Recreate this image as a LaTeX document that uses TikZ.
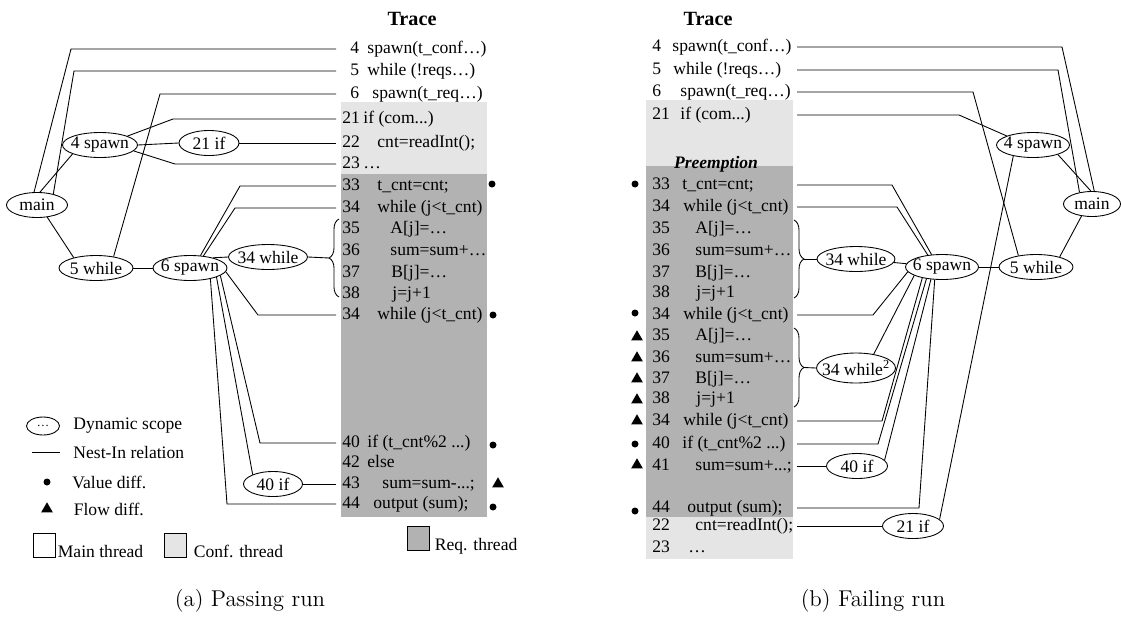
\documentclass[tikz,border=0pt]{standalone}
\usepackage{fontspec}
\newfontfamily\trfont{Liberation Serif}
\usepackage{tikz}
\usetikzlibrary{shapes.geometric,decorations.pathreplacing,positioning}
\definecolor{confgray}{gray}{0.9}
\definecolor{reqgray}{gray}{0.7}
\newcommand{\trln}[3]{\makebox[#1][l]{#2}#3}

\begin{document}
\begin{tikzpicture}[x=0.02cm, y=-0.02cm, line width=0.5pt,
scopenode/.style={ellipse, draw, font=\trfont, inner xsep=-5pt, inner ysep=0pt, minimum width=1.48cm, minimum height=0.5cm},
tracerow/.style={anchor=west, inner sep=0pt, text height=7pt, text depth=2pt, font=\trfont},
valdiff/.style={circle, fill=black, inner sep=0pt, minimum size=0.14cm},
flowdiff/.style={regular polygon, regular polygon sides=3, fill=black, inner sep=0pt, minimum size=0.27cm},
legbox/.style={rectangle, draw, inner sep=0pt, minimum width=0.44cm, minimum height=0.48cm},
legtext/.style={anchor=west, inner sep=0pt, font=\trfont},
codebrace/.style={decorate, decoration={brace, amplitude=0.2cm}},
]
\useasboundingbox (0,0) rectangle (1121,619);

%Trace boxes
\fill[confgray] (341,102) rectangle (487,174);
\fill[reqgray] (341,174) rectangle (487,517);
\fill[confgray] (646,100) rectangle (793,166);
\fill[reqgray] (646,166) rectangle (793,517);
\fill[confgray] (646,517) rectangle (793,559);

\coordinate (ea) at (336,0);
\coordinate (eb) at (797,0);

%Nodes (a)
\node[font={\trfont\bfseries\fontsize{11.5}{13}\selectfont}] (tra) at (412,19) {Trace};
\node[tracerow] (a4) at (350,49) {\trln{0.34cm}{4}{spawn(t\_conf…)}};
\node[tracerow] (a5) at (350,71) {\trln{0.34cm}{5}{while (!reqs…)}};
\node[tracerow] (a6) at (350,94) {\trln{0.44cm}{6}{spawn(t\_req…)}};
\node[tracerow] (a21) at (342,119) {\trln{0.42cm}{21}{if (com...)}};
\node[tracerow] (a22) at (342,143) {\trln{0.7cm}{22}{cnt=readInt();}};
\node[tracerow] (a23) at (342,164) {\trln{0.42cm}{23}{…}};
\node[tracerow] (a33) at (342,186) {\trln{0.7cm}{33}{t\_cnt=cnt;}};
\node[tracerow] (a34) at (342,208) {\trln{0.7cm}{34}{while (j<t\_cnt)}};
\node[tracerow] (a35) at (342,229) {\trln{0.96cm}{35}{A[j]=…}};
\node[tracerow] (a36) at (342,251) {\trln{0.96cm}{36}{sum=sum+…}};
\node[tracerow] (a37) at (342,273) {\trln{0.98cm}{37}{B[j]=…}};
\node[tracerow] (a38) at (342,294) {\trln{1cm}{38}{j=j+1}};
\node[tracerow] (a34b) at (342,315) {\trln{0.7cm}{34}{while (j<t\_cnt)}};
\node[tracerow] (a40) at (342,443) {\trln{0.5cm}{40}{if (t\_cnt\%2 ...)}};
\node[tracerow] (a42) at (342,463) {\trln{0.5cm}{42}{else}};
\node[tracerow] (a43) at (342,484) {\trln{0.8cm}{43}{sum=sum-...;}};
\node[tracerow] (a44) at (342,504) {\trln{0.62cm}{44}{output (sum);}};

\node[scopenode, minimum width=1.22cm] (lmain) at (37,205) {main};
\node[scopenode, minimum width=1.5cm] (ls4) at (100,145) {4 spawn};
\node[scopenode, minimum width=1.2cm] (lif21) at (209,143) {21 if};
\node[scopenode] (lw5) at (96,268) {5 while};
\node[scopenode] (ls6) at (190,268) {6 spawn};
\node[scopenode, minimum width=1.58cm] (lw34) at (268,257) {34 while};
\node[scopenode, minimum width=1.18cm] (lif40) at (273,484) {40 if};

\node[valdiff] (va33) at (492,184) {};
\node[valdiff] (va34) at (493,315) {};
\node[valdiff] (va40) at (493,445) {};
\node[flowdiff] (fa43) at (498,484) {};
\node[valdiff] (va44) at (493,507) {};

\draw[codebrace] (339,297) -- (339,219);
\coordinate (lbr) at (329,258);

%Lines (a)
\draw (lmain.103) -- (71,49) -- (a4 -| ea);
\draw (lmain.34) -- (74,71) -- (a5 -| ea);
\draw (lmain.77) -- (ls4.198);
\draw (lmain.-50) -- (lw5.155);
\draw (ls4.18) -- (173,119) -- (a21 -| ea);
\draw (ls4.east) -- (lif21.west);
\draw (lif21.east) -- (a22 -| ea);
\draw (ls4.-10) -- (175,164) -- (a23 -| ea);
\draw (lw5.33) -- (160,94) -- (a6 -| ea);
\draw (lw5) -- (ls6);
\draw (ls6.50) -- (240,186) -- (a33 -| ea);
\draw (ls6.42) -- (235,208) -- (a34 -| ea);
\draw (ls6.24) -- (lw34.west);
\draw (lw34.east) -- (lbr);
\draw (ls6.-6) -- (258,315) -- (a34b -| ea);
\draw (ls6.-14) -- (260,443) -- (a40 -| ea);
\draw (ls6.-19) -- (lif40.155);
\draw (lif40.east) -- (a43 -| ea);
\draw (ls6.-28) -- (227,504) -- (a44 -| ea);

%Legend
\node[scopenode, minimum width=0.66cm, minimum height=0.36cm, font=\trfont\scriptsize] (lgscope) at (43,426) {…};
\node[legtext, right=0.26cm of lgscope] (lgscopet) {Dynamic scope};
\coordinate (lgn1) at (32,452);
\coordinate (lgn2) at (60,452);
\draw (lgn1) -- (lgn2);
\node[legtext, right=0.26cm of lgn2] (lgnestt) {Nest-In relation};
\node[valdiff] (lgval) at (47,482) {};
\node[legtext, right=0.42cm of lgval] (lgvalt) {Value diff.};
\node[flowdiff] (lgflow) at (47,509) {};
\node[legtext, right=0.44cm of lgflow] (lgflowt) {Flow diff.};
\node[legbox] (lgmain) at (44,545) {};
\node[legtext, right=0.04cm of lgmain.south east, anchor=base west] (lgmaint) {Main thread};
\node[legbox, fill=confgray] (lgconf) at (175,545) {};
\node[legtext, right=0.14cm of lgconf.south east, anchor=base west] (lgconft) {Conf. thread};
\node[legbox, fill=reqgray] (lgreq) at (418,538) {};
\node[legtext, right=0.1cm of lgreq.south east, anchor=base west] (lgreqt) {Req. thread};

%Nodes (b)
\node[font={\trfont\bfseries\fontsize{11.5}{13}\selectfont}] (trb) at (708,19) {Trace};
\node[font={\trfont\bfseries\itshape}] (preb) at (716,164) {Preemption};
\node[tracerow] (b4) at (652,47) {\trln{0.4cm}{4}{spawn(t\_conf…)}};
\node[tracerow] (b5) at (652,70) {\trln{0.42cm}{5}{while (!reqs…)}};
\node[tracerow] (b6) at (652,92) {\trln{0.56cm}{6}{spawn(t\_req…)}};
\node[tracerow] (b21) at (652,115) {\trln{0.56cm}{21}{if (com...)}};
\node[tracerow] (b33) at (652,185) {\trln{0.6cm}{33}{t\_cnt=cnt;}};
\node[tracerow] (b34) at (652,207) {\trln{0.62cm}{34}{while (j<t\_cnt)}};
\node[tracerow] (b35) at (652,229) {\trln{0.86cm}{35}{A[j]=…}};
\node[tracerow] (b36) at (652,251) {\trln{0.86cm}{36}{sum=sum+…}};
\node[tracerow] (b37) at (652,273) {\trln{0.86cm}{37}{B[j]=…}};
\node[tracerow] (b38) at (652,293) {\trln{0.88cm}{38}{j=j+1}};
\node[tracerow] (b34b) at (652,315) {\trln{0.62cm}{34}{while (j<t\_cnt)}};
\node[tracerow] (b35b) at (652,336) {\trln{0.86cm}{35}{A[j]=…}};
\node[tracerow] (b36b) at (652,358) {\trln{0.86cm}{36}{sum=sum+…}};
\node[tracerow] (b37b) at (652,379) {\trln{0.86cm}{37}{B[j]=…}};
\node[tracerow] (b38b) at (652,399) {\trln{0.88cm}{38}{j=j+1}};
\node[tracerow] (b34c) at (652,421) {\trln{0.62cm}{34}{while (j<t\_cnt)}};
\node[tracerow] (b40) at (652,444) {\trln{0.6cm}{40}{if (t\_cnt\%2 ...)}};
\node[tracerow] (b41) at (652,466) {\trln{0.86cm}{41}{sum=sum+...;}};
\node[tracerow] (b44) at (652,508) {\trln{0.7cm}{44}{output (sum);}};
\node[tracerow] (b22) at (652,526) {\trln{0.86cm}{22}{cnt=readInt();}};
\node[tracerow] (b23) at (652,548) {\trln{0.72cm}{23}{…}};

\node[scopenode, minimum width=1.14cm] (rmain) at (1092,204) {main};
\node[scopenode, minimum width=1.46cm] (rs4) at (1033,145) {4 spawn};
\node[scopenode] (rw5) at (1036,267) {5 while};
\node[scopenode, minimum width=1.46cm] (rs6) at (942,267) {6 spawn};
\node[scopenode, minimum width=1.56cm] (rw34) at (856,259) {34 while};
\node[scopenode, minimum width=1.58cm, minimum height=0.6cm] (rw34x) at (856,368) {34 while\textsuperscript{2}};
\node[scopenode, minimum width=1.22cm] (rif40) at (857,466) {40 if};
\node[scopenode, minimum width=1.22cm] (rif21) at (913,526) {21 if};

\node[valdiff] (vb33) at (635,184) {};
\node[valdiff] (vb34) at (635,313) {};
\node[flowdiff] (fb35) at (637,337) {};
\node[flowdiff] (fb36) at (637,358) {};
\node[flowdiff] (fb37) at (637,379) {};
\node[flowdiff] (fb38) at (637,400) {};
\node[flowdiff] (fb34) at (637,421) {};
\node[valdiff] (vb40) at (635,444) {};
\node[flowdiff] (fb41) at (637,465) {};
\node[valdiff] (vb44) at (635,511) {};

\draw[codebrace] (794,220) -- (794,298);
\coordinate (rbr1) at (804,259);
\draw[codebrace] (794,328) -- (794,407);
\coordinate (rbr2) at (804,367.5);

%Lines (b)
\draw (rmain.80) -- (1062,47) -- (b4 -| eb);
\draw (rmain.137) -- (1058,70) -- (b5 -| eb);
\draw (rw5.147) -- (973,92) -- (b6 -| eb);
\draw (rs4.161) -- (959,115) -- (b21 -| eb);
\draw (rs4.-21) -- (rmain.95);
\draw (rmain.-131) -- (rw5.23);
\draw (rw5) -- (rs6);
\draw (rs4.-151) -- (rif21.14);
\draw (rif21.west) -- (b22 -| eb);
\draw (rs6.130) -- (892,185) -- (b33 -| eb);
\draw (rs6.140) -- (897,207) -- (b34 -| eb);
\draw (rw34) -- (rs6);
\draw (rbr1) -- (rw34.west);
\draw (rs6.-172) -- (873,315) -- (b34b -| eb);
\draw (rs6.-163) -- (rw34x.38);
\draw (rbr2) -- (rw34x.west);
\draw (rs6.-151) -- (882,421) -- (b34c -| eb);
\draw (rs6.-143) -- (878,444) -- (b40 -| eb);
\draw (rs6.-132) -- (rif40.12);
\draw (rif40.west) -- (b41 -| eb);
\draw (rs6.-120) -- (919,508) -- (b44 -| eb);

%Captions
\node[font=\fontsize{13}{15}\selectfont] (capa) at (250,601) {(a) Passing run};
\node[font=\fontsize{13}{15}\selectfont] (capb) at (873,601) {(b) Failing run};

\end{tikzpicture}
\end{document}
